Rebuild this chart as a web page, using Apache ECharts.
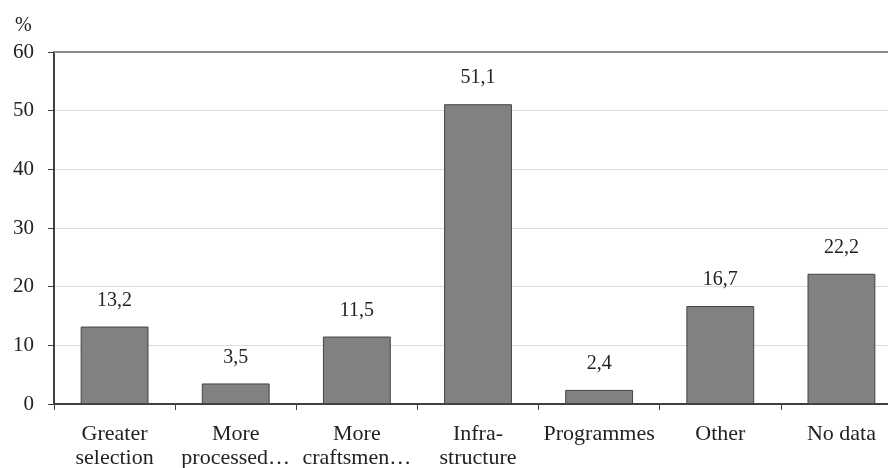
<!DOCTYPE html>
<html>
<head>
<meta charset="utf-8">
<script src="https://cdn.jsdelivr.net/npm/echarts@6/dist/echarts.min.js"></script>
<style>
  html, body { margin: 0; padding: 0; background: #fff; overflow: hidden; }
  /* the last category runs slightly past the right edge of the view */
  #chart { width: 902px; height: 468px; }
</style>
</head>
<body>
<div id="chart"></div>
<script>
// Reasons given, share of respondents (%)
const categories = [
  'Greater\nselection',
  'More\nprocessed…',
  'More\ncraftsmen…',
  'Infra-\nstructure',
  'Programmes',
  'Other',
  'No data'
];
const values = [13.2, 3.5, 11.5, 51.1, 2.4, 16.7, 22.2];
const yTicks = { min: 0, max: 60, interval: 10 };

const serif = '"Liberation Serif", "DejaVu Serif", serif';
const fmt = v => String(v).replace('.', ',');

const chart = echarts.init(document.getElementById('chart'), null, { renderer: 'canvas' });
chart.setOption({
  animation: false,
  backgroundColor: '#ffffff',
  title: {
    text: '%',
    left: 10,
    top: 11,
    textStyle: { fontFamily: serif, fontSize: 20, fontWeight: 'normal', color: '#222' }
  },
  grid: { left: 54, right: 0, top: 52, bottom: 64, containLabel: false, outerBoundsMode: 'none' },
  xAxis: {
    type: 'category',
    data: categories,
    boundaryGap: true,
    axisLine: { lineStyle: { color: '#404040', width: 2 } },
    axisTick: { show: true, alignWithLabel: false, length: 6, lineStyle: { color: '#404040', width: 1 } },
    axisLabel: {
      interval: 0,
      margin: 18,
      fontFamily: serif,
      fontSize: 22,
      lineHeight: 24,
      color: '#222'
    }
  },
  yAxis: {
    type: 'value',
    min: yTicks.min,
    max: yTicks.max,
    interval: yTicks.interval,
    axisLine: { show: true, lineStyle: { color: '#404040', width: 2 } },
    axisTick: { show: true, length: 6, lineStyle: { color: '#404040', width: 1 } },
    axisLabel: { margin: 20, fontFamily: serif, fontSize: 21, color: '#222' },
    splitLine: { show: true, lineStyle: { color: '#dcdcdc', width: 1 } }
  },
  series: [{
    type: 'bar',
    data: values,
    barCategoryGap: '44%',
    itemStyle: { color: '#818083', borderColor: '#444', borderWidth: 1 },
    label: {
      show: true,
      position: 'top',
      distance: 16,
      fontFamily: serif,
      fontSize: 20,
      color: '#222',
      formatter: p => fmt(p.value)
    },
    markLine: {
      silent: true,
      symbol: 'none',
      label: { show: false },
      lineStyle: { color: '#888', width: 2, type: 'solid' },
      data: [{ yAxis: yTicks.max }]
    }
  }]
});
</script>
</body>
</html>
